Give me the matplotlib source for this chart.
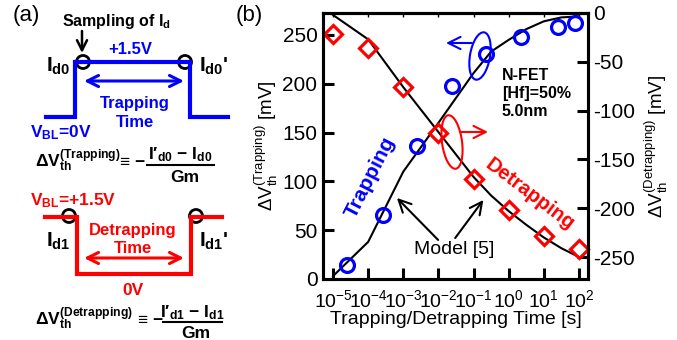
import numpy as np
import matplotlib
matplotlib.use("Agg")
import matplotlib.pyplot as plt
from matplotlib.patches import Circle, Ellipse
from matplotlib.ticker import LogLocator, NullLocator, MultipleLocator

plt.rcParams['font.family'] = ['Liberation Sans', 'DejaVu Sans']
plt.rcParams['mathtext.fontset'] = 'custom'
plt.rcParams['mathtext.rm'] = 'Liberation Sans'
plt.rcParams['mathtext.default'] = 'regular'
plt.rcParams['axes.unicode_minus'] = False

# measured shifts (b)
t_trap = [2.5e-5, 2.6e-4, 2.5e-3, 2.4e-2, 0.23, 2.3, 26, 78]
dvt_trap = [14, 66, 136, 198, 231, 248, 258, 262]
t_detrap = [1e-5, 1e-4, 1e-3, 1e-2, 1e-1, 1, 10, 100]
dvt_detrap = [-22, -36, -76, -123, -170, -202, -228, -242]

# model [5]
t_model = [1e-5, 1e-4, 1e-3, 1e-2, 1e-1, 10**-0.5, 1, 10**0.5, 10, 10**1.5, 100]
trap_model = [3, 38, 110, 160, 211, 233, 245, 256, 264, 268, 269]
detrap_model = [-2, -27, -76, -122, -168, -187, -203, -217, -230, -241, -250]

BLUE = (0, 0, 1)
RED = (1, 0, 0)

fig = plt.figure(figsize=(6.77, 3.4), dpi=100)

# ---------------- (b) ----------------
ax = fig.add_axes([323/677, 61/340, 265/677, 266/340])
ax.set_xscale('log')
ax.set_xlim(10**-5.285, 10**2.256)
ax.set_ylim(0, 272.5)
ax.xaxis.set_major_locator(LogLocator(base=10, numticks=20))
ax.xaxis.set_minor_locator(NullLocator())
ax.yaxis.set_major_locator(MultipleLocator(50))
ax.tick_params(axis='y', direction='in', length=8, width=2.2, labelsize=15, pad=4)
ax.tick_params(axis='x', direction='in', length=8, width=2.2, labelsize=14, pad=7)

ax2 = ax.twinx()
ax2.set_ylim(-272.5, 0)
ax2.yaxis.set_major_locator(MultipleLocator(50))
ax2.tick_params(axis='y', direction='in', length=8, width=2.2, labelsize=15, pad=4)

top = ax.secondary_xaxis('top')
top.xaxis.set_major_locator(LogLocator(base=10, numticks=20))
top.xaxis.set_minor_locator(NullLocator())
top.tick_params(direction='in', length=3, width=1, labeltop=False)
top.spines['top'].set_linewidth(2.2)

for a in (ax, ax2):
    for s in a.spines.values():
        s.set_linewidth(2.2)

ax.plot(t_model, trap_model, '-', color='k', lw=1.5)
ax2.plot(t_model, detrap_model, '-', color='k', lw=1.5)
ax.plot(t_trap, dvt_trap, 'o', mfc='none', mec=BLUE, ms=10, mew=2.3, clip_on=False)
ax2.plot(t_detrap, dvt_detrap, 'D', mfc='none', mec=RED, ms=9.5, mew=2.3, clip_on=False)

ax.set_xlabel('Trapping/Detrapping Time [s]', fontsize=14, labelpad=0)
ax.set_ylabel(r'$\Delta V_{th}^{(Trapping)}$ [mV]', fontsize=13.5, labelpad=2)
ax2.set_ylabel(r'$\Delta V_{th}^{(Detrapping)}$ [mV]', fontsize=13.5, labelpad=5)

ax.text(0.63, 216, 'N-FET\n[Hf]=50%\n5.0nm', fontsize=11.5, fontweight='bold',
        ha='left', va='top', linespacing=1.25)
ax.text(1.15e-4, 104, 'Trapping', color=BLUE, fontsize=15, fontweight='bold',
        rotation=63, ha='center', va='center', rotation_mode='anchor')
ax.text(4.0, 87, 'Detrapping', color=RED, fontsize=14.5, fontweight='bold',
        rotation=-37, ha='center', va='center', rotation_mode='anchor')

ax.text(0.028, 30, 'Model [5]', fontsize=14, ha='center', va='center')
arw = dict(arrowstyle='->', lw=1.5, color='k', mutation_scale=22, shrinkA=0, shrinkB=0)
ax.annotate('', xy=(6.6e-4, 83), xytext=(9.8e-3, 40), arrowprops=arw)
ax.annotate('', xy=(0.19, 81), xytext=(0.03, 42), arrowprops=arw)

# ---------------- overlay in pixel units ----------------
ov = fig.add_axes([0, 0, 1, 1])
ov.set_xlim(0, 677)
ov.set_ylim(340, 0)
ov.axis('off')
ov.patch.set_visible(False)

ov.text(249, 15, '(b)', fontsize=16, ha='center', va='center')

# which-axis markers
ov.add_patch(Ellipse((480, 56), 20, 48, angle=10, fill=False, ec=BLUE, lw=1.5))
ov.annotate('', xy=(446, 43), xytext=(472, 43),
            arrowprops=dict(arrowstyle='->', lw=1.5, color=BLUE, mutation_scale=22,
                            shrinkA=0, shrinkB=0))
ov.add_patch(Ellipse((452, 142), 20, 54, angle=-8, fill=False, ec=RED, lw=1.5))
ov.annotate('', xy=(488, 132), xytext=(460, 132),
            arrowprops=dict(arrowstyle='->', lw=1.5, color=RED, mutation_scale=22,
                            shrinkA=0, shrinkB=0))

# ---------------- (a) ----------------
ov.text(26, 16, '(a)', fontsize=16, ha='center', va='center')
bold = dict(fontweight='bold')

# trapping pulse
ov.text(62, 26, r'Sampling of I$_d$', fontsize=11.5, va='baseline', ha='left', **bold)
ov.annotate('', xy=(82, 53), xytext=(82, 31),
            arrowprops=dict(arrowstyle='->', lw=1.8, color='k', mutation_scale=18,
                            shrinkA=0, shrinkB=0))
ov.plot([46, 75, 75, 190, 190, 228], [117, 117, 62, 62, 117, 117],
        color=BLUE, lw=3, solid_joinstyle='miter')
ov.add_patch(Circle((83, 62), 6.5, fill=False, ec='k', lw=2))
ov.add_patch(Circle((185, 62), 6.5, fill=False, ec='k', lw=2))
ov.text(130, 54, '+1.5V', color=BLUE, fontsize=12, ha='center', va='baseline', **bold)
ov.text(46, 72, r'I$_{d0}$', fontsize=15, ha='left', va='baseline', **bold)
ov.text(199, 72, r"I$_{d0}$'", fontsize=15, ha='left', va='baseline', **bold)
ov.annotate('', xy=(84, 81), xytext=(184, 81),
            arrowprops=dict(arrowstyle='<->', lw=2.2, color=BLUE, mutation_scale=20,
                            shrinkA=0, shrinkB=0))
ov.text(135, 108, 'Trapping', color=BLUE, fontsize=12, ha='center', va='baseline', **bold)
ov.text(135, 127, 'Time', color=BLUE, fontsize=12, ha='center', va='baseline', **bold)
ov.text(30, 137, r'V$_{BL}$=0V', color=BLUE, fontsize=12.5, ha='left', va='baseline', **bold)

ov.text(35, 167, r'$\Delta V_{th}^{(Trapping)}$', fontsize=12.5, ha='left', va='baseline', **bold)
ov.text(120, 167, '≡ −', fontsize=12.5, ha='left', va='baseline', **bold)
ov.text(180, 159, 'I′$_{d0}$ − I$_{d0}$', fontsize=12.5, ha='center', va='baseline', **bold)
ov.plot([147, 214], [164.5, 164.5], color='k', lw=1.5)
ov.text(185, 182, 'Gm', fontsize=12.5, ha='center', va='baseline', **bold)

# detrapping pulse
ov.text(30, 205, r'V$_{BL}$=+1.5V', color=RED, fontsize=12.5, ha='left', va='baseline', **bold)
ov.plot([45, 77, 77, 191, 191, 222], [217, 217, 274, 274, 217, 217],
        color=RED, lw=3, solid_joinstyle='miter')
ov.add_patch(Circle((69, 216), 6.5, fill=False, ec='k', lw=2))
ov.add_patch(Circle((196, 216), 6.5, fill=False, ec='k', lw=2))
ov.text(46, 247, r'I$_{d1}$', fontsize=15, ha='left', va='baseline', **bold)
ov.text(199, 247, r"I$_{d1}$'", fontsize=15, ha='left', va='baseline', **bold)
ov.text(133, 235, 'Detrapping', color=RED, fontsize=12, ha='center', va='baseline', **bold)
ov.text(133, 253, 'Time', color=RED, fontsize=12, ha='center', va='baseline', **bold)
ov.annotate('', xy=(84, 258), xytext=(184, 258),
            arrowprops=dict(arrowstyle='<->', lw=2.2, color=RED, mutation_scale=20,
                            shrinkA=0, shrinkB=0))
ov.text(133, 295, '0V', color=RED, fontsize=12.5, ha='center', va='baseline', **bold)

ov.text(35, 325, r'$\Delta V_{th}^{(Detrapping)}$', fontsize=12.5, ha='left', va='baseline', **bold)
ov.text(138, 325, '≡ −', fontsize=12.5, ha='left', va='baseline', **bold)
ov.text(192, 317, 'I′$_{d1}$ − I$_{d1}$', fontsize=12.5, ha='center', va='baseline', **bold)
ov.plot([163, 222], [322, 322], color='k', lw=1.5)
ov.text(196, 338, 'Gm', fontsize=12.5, ha='center', va='baseline', **bold)

fig.savefig('out.png', dpi=100)
